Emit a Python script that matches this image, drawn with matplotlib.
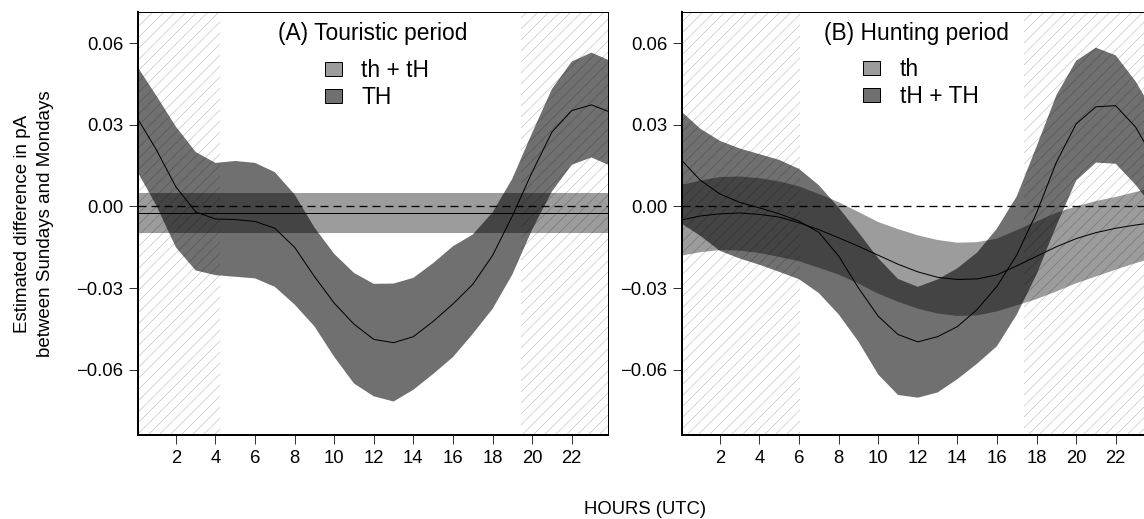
import numpy as np
import matplotlib
matplotlib.use("Agg")
import matplotlib.pyplot as plt
from matplotlib.patches import Patch

DPI = 66


def px(v):
    """pixel size -> points at the figure dpi"""
    return v * 72.0 / DPI


hours = [0.1, 1, 2, 3, 4, 5, 6, 7, 8, 9, 10, 11, 12, 13, 14, 15, 16, 17,
         18, 19, 20, 21, 22, 23, 23.85]

# (A) Touristic period -- TH
a_th_mid = [0.0318, 0.0210, 0.0072, -0.0020, -0.0046, -0.0048, -0.0055, -0.0080,
            -0.0150, -0.0257, -0.0355, -0.0432, -0.0488, -0.0500, -0.0478, -0.0422,
            -0.0358, -0.0286, -0.0180, -0.0035, 0.0126, 0.0273, 0.0352, 0.0373, 0.0349]
a_th_hi = [0.0508, 0.0408, 0.0293, 0.0200, 0.0160, 0.0167, 0.0160, 0.0126,
           0.0044, -0.0077, -0.0174, -0.0244, -0.0284, -0.0283, -0.0262, -0.0208,
           -0.0146, -0.0103, -0.0022, 0.0102, 0.0270, 0.0431, 0.0532, 0.0565, 0.0538]
a_th_lo = [0.0122, 0.0005, -0.0150, -0.0235, -0.0252, -0.0258, -0.0264, -0.0295,
           -0.0360, -0.0440, -0.0552, -0.0650, -0.0697, -0.0716, -0.0673, -0.0615,
           -0.0553, -0.0468, -0.0376, -0.0250, -0.0085, 0.0055, 0.0153, 0.0180, 0.0153]
# (A) th + tH : constant effect
a_tht_mid = -0.0024
a_tht_hi = 0.0051
a_tht_lo = -0.0098

# (B) Hunting period -- th
b_th_mid = [-0.0049, -0.0035, -0.0027, -0.0024, -0.0029, -0.0039, -0.0060, -0.0085,
            -0.0115, -0.0146, -0.0179, -0.0212, -0.0240, -0.0260, -0.0268, -0.0266,
            -0.0251, -0.0218, -0.0183, -0.0148, -0.0118, -0.0096, -0.0080, -0.0068, -0.0060]
b_th_hi = [0.0080, 0.0095, 0.0108, 0.0110, 0.0104, 0.0092, 0.0074, 0.0046,
           0.0016, -0.0020, -0.0057, -0.0083, -0.0106, -0.0123, -0.0133, -0.0131,
           -0.0118, -0.0087, -0.0055, -0.0023, 0.0000, 0.0020, 0.0035, 0.0053, 0.0068]
b_th_lo = [-0.0180, -0.0168, -0.0160, -0.0162, -0.0171, -0.0185, -0.0201, -0.0225,
           -0.0250, -0.0283, -0.0320, -0.0350, -0.0375, -0.0393, -0.0402, -0.0400,
           -0.0385, -0.0363, -0.0340, -0.0312, -0.0282, -0.0257, -0.0232, -0.0208, -0.0190]
# (B) tH + TH
b_tH_mid = [0.0167, 0.0097, 0.0046, 0.0015, -0.0005, -0.0027, -0.0054, -0.0095,
            -0.0182, -0.0299, -0.0403, -0.0470, -0.0497, -0.0478, -0.0441, -0.0378,
            -0.0293, -0.0178, -0.0024, 0.0162, 0.0303, 0.0366, 0.0370, 0.0292, 0.0185]
b_tH_hi = [0.0346, 0.0286, 0.0241, 0.0213, 0.0192, 0.0171, 0.0138, 0.0078,
           -0.0004, -0.0095, -0.0190, -0.0266, -0.0295, -0.0268, -0.0227, -0.0169,
           -0.0081, 0.0037, 0.0220, 0.0408, 0.0535, 0.0583, 0.0555, 0.0460, 0.0355]
b_tH_lo = [-0.0065, -0.0107, -0.0163, -0.0191, -0.0214, -0.0240, -0.0267, -0.0318,
           -0.0396, -0.0496, -0.0617, -0.0692, -0.0702, -0.0683, -0.0634, -0.0577,
           -0.0513, -0.0397, -0.0250, -0.0071, 0.0095, 0.0161, 0.0157, 0.0080, 0.0000]

# night time (hatched) per period
night_a = [(0.0, 4.24), (19.43, 24.0)]
night_b = [(0.0, 6.04), (17.39, 24.0)]

xticks = [2, 4, 6, 8, 10, 12, 14, 16, 18, 20, 22]
yticks = [-0.06, -0.03, 0.0, 0.03, 0.06]
ytick_labels = ["\u22120.06", "\u22120.03", "0.00", "0.03", "0.06"]

LIGHT_A = 0.39  # alpha of the light band
DARK_A = 0.56   # alpha of the dark band
light_col = (1 - LIGHT_A,) * 3
dark_col = (1 - DARK_A,) * 3

plt.rcParams["font.family"] = ["Liberation Sans", "DejaVu Sans"]
plt.rcParams["hatch.linewidth"] = 0.8
plt.rcParams["lines.scale_dashes"] = False

fig = plt.figure(figsize=(1144 / DPI, 519 / DPI), dpi=DPI)
W, H = 1144.0, 519.0
ax_a = fig.add_axes([138.3 / W, 1 - 435 / H, 470 / W, 423 / H])
ax_b = fig.add_axes([682.3 / W, 1 - 435 / H, 470 / W, 423 / H])


def setup(ax, night):
    # "//" at this dpi gives hatch lines ~11 px apart, like the original
    for x0, x1 in night:
        ax.axvspan(x0, x1, facecolor="none", edgecolor="#c8c8c8", hatch="//",
                   linewidth=0, zorder=0)
    ax.set_xlim(0.1, 23.85)
    ax.set_ylim(-0.0839, 0.0714)
    ax.set_xticks(xticks)
    ax.set_xticklabels([str(t) for t in xticks])
    ax.set_yticks(yticks)
    ax.set_yticklabels(ytick_labels)
    ax.tick_params(direction="out", length=px(9), width=px(1), labelsize=px(18.5),
                   pad=px(6), color="#333333")
    for side in ["top", "right"]:
        ax.spines[side].set_linewidth(px(1))
    for side in ["left", "bottom"]:
        ax.spines[side].set_linewidth(px(2))
    ax.axhline(0, color="black", lw=px(1.3), dashes=[px(8), px(5)], zorder=5)


def band(ax, lo, hi, alpha):
    ax.fill_between(hours, lo, hi, facecolor="black", alpha=alpha, linewidth=0, zorder=2)


def legend(ax, labels, anchor):
    handles = [Patch(facecolor=light_col, edgecolor="black", linewidth=px(1), label=labels[0]),
               Patch(facecolor=dark_col, edgecolor="black", linewidth=px(1), label=labels[1])]
    ax.legend(handles=handles, loc="upper left", bbox_to_anchor=anchor, frameon=False,
              borderpad=0, borderaxespad=0, fontsize=px(22.8), handlelength=0.75,
              handleheight=0.57, handletextpad=0.85, labelspacing=0.17)


# panel A
setup(ax_a, night_a)
ax_a.axhspan(a_tht_lo, a_tht_hi, facecolor="black", alpha=LIGHT_A, linewidth=0, zorder=2)
band(ax_a, a_th_lo, a_th_hi, DARK_A)
ax_a.axhline(a_tht_mid, color="black", lw=px(1), zorder=4)
ax_a.plot(hours, a_th_mid, color="black", lw=px(1), zorder=4)
ax_a.text(0.498, 0.948, "(A) Touristic period", transform=ax_a.transAxes,
          ha="center", va="center", fontsize=px(22.8))
legend(ax_a, ["th + tH", "TH"], (0.397, 0.888))

# panel B
setup(ax_b, night_b)
band(ax_b, b_th_lo, b_th_hi, LIGHT_A)
band(ax_b, b_tH_lo, b_tH_hi, DARK_A)
ax_b.plot(hours, b_th_mid, color="black", lw=px(1), zorder=4)
ax_b.plot(hours, b_tH_mid, color="black", lw=px(1), zorder=4)
ax_b.text(0.498, 0.948, "(B) Hunting period", transform=ax_b.transAxes,
          ha="center", va="center", fontsize=px(22.8))
legend(ax_b, ["th", "tH + TH"], (0.385, 0.891))

fig.text(34 / W, 1 - 224 / H, "Estimated difference in pA\nbetween Sundays and Mondays",
         rotation=90, ha="center", va="center", fontsize=px(18.8), linespacing=1.5)
fig.text(645 / W, 1 - 510 / H, "HOURS (UTC)", ha="center", va="center", fontsize=px(18.5))

fig.savefig("out.png", dpi=DPI)
